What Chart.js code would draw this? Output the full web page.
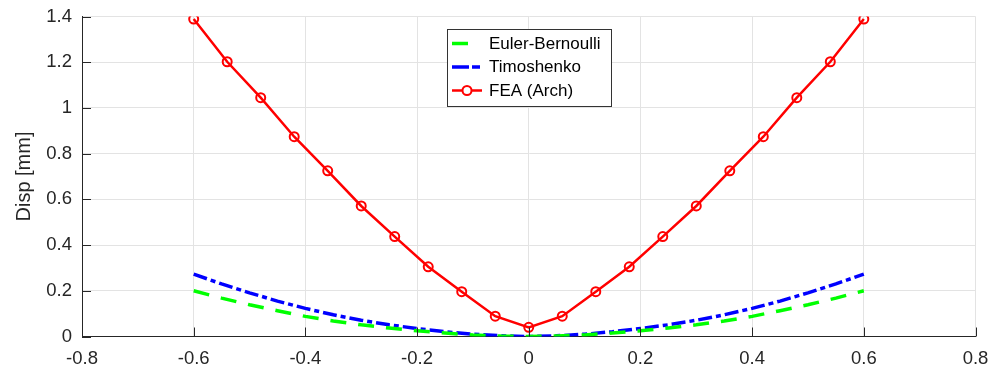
<!DOCTYPE html>
<html>
<head>
<meta charset="utf-8">
<script src="https://cdn.jsdelivr.net/npm/chart.js@4.4.1/dist/chart.umd.min.js"></script>
<style>
  html, body { margin: 0; padding: 0; background: #fff; }
  #wrap { width: 1006px; height: 374px; }
  canvas { display: block; }
</style>
</head>
<body>
<div id="wrap"><canvas id="c" width="1006" height="374"></canvas></div>
<script>
// Axis ticks
const xTicks = [-0.8, -0.6, -0.4, -0.2, 0, 0.2, 0.4, 0.6, 0.8];
const yTicks = [0, 0.2, 0.4, 0.6, 0.8, 1, 1.2, 1.4];

// Analytical beam solutions, sampled along the span (m)
const beamX = [-0.60, -0.55, -0.50, -0.45, -0.40, -0.35, -0.30, -0.25, -0.20, -0.15, -0.10, -0.05, 0.00,
                0.05,  0.10,  0.15,  0.20,  0.25,  0.30,  0.35,  0.40,  0.45,  0.50,  0.55,  0.60];
const eulerBernoulli = [0.200, 0.168, 0.139, 0.113, 0.088, 0.068, 0.051, 0.037, 0.025, 0.015, 0.007, 0.002, 0.000,
                        0.002, 0.007, 0.015, 0.025, 0.037, 0.051, 0.068, 0.088, 0.113, 0.139, 0.168, 0.200];
const timoshenko = [0.273, 0.230, 0.191, 0.155, 0.123, 0.095, 0.071, 0.051, 0.035, 0.021, 0.010, 0.003, 0.000,
                    0.003, 0.010, 0.021, 0.035, 0.051, 0.071, 0.095, 0.123, 0.155, 0.191, 0.230, 0.273];

// FEA (arch model) nodal displacements
const feaX = [-0.60, -0.54, -0.48, -0.42, -0.36, -0.30, -0.24, -0.18, -0.12, -0.06, 0.00,
               0.06,  0.12,  0.18,  0.24,  0.30,  0.36,  0.42,  0.48,  0.54,  0.60];
const feaArch = [1.389, 1.202, 1.045, 0.874, 0.725, 0.571, 0.437, 0.305, 0.196, 0.089, 0.040,
                 0.089, 0.196, 0.305, 0.437, 0.571, 0.725, 0.874, 1.045, 1.202, 1.389];

const seriesNames = ['Euler-Bernoulli', 'Timoshenko', 'FEA (Arch)'];

const pts = (xs, ys) => xs.map((v, i) => ({ x: v, y: ys[i] }));
const fmt = v => String(Math.round(v * 10) / 10);

const AXIS = '#262626';
const GRID = '#e3e3e3';
const FONT = '"Liberation Sans", Arial, Helvetica, sans-serif';

// Inward tick marks plus the boxed legend
const frame = {
  id: 'frame',
  afterDatasetsDraw(chart) {
    const { ctx, chartArea: a, scales: { x, y } } = chart;
    ctx.save();
    ctx.strokeStyle = AXIS;
    ctx.lineWidth = 1;
    ctx.beginPath();
    xTicks.forEach(v => {
      const px = Math.round(x.getPixelForValue(v)) + 0.5;
      ctx.moveTo(px, a.bottom);
      ctx.lineTo(px, a.bottom - 9);
    });
    yTicks.forEach(v => {
      const py = Math.round(y.getPixelForValue(v)) + 0.5;
      ctx.moveTo(a.left, py);
      ctx.lineTo(a.left + 9, py);
    });
    ctx.stroke();

    // legend box
    const bx = 447.5, by = 29.5, bw = 164, bh = 77;
    ctx.fillStyle = '#fff';
    ctx.fillRect(bx, by, bw, bh);
    ctx.strokeStyle = '#333';
    ctx.strokeRect(bx, by, bw, bh);

    const rows = [43.5, 67, 90.5];
    ctx.lineCap = 'butt';
    // Euler-Bernoulli sample
    ctx.strokeStyle = '#00ff00';
    ctx.lineWidth = 3.5;
    ctx.beginPath(); ctx.moveTo(452, rows[0]); ctx.lineTo(468, rows[0]); ctx.stroke();
    // Timoshenko sample
    ctx.strokeStyle = '#0000ff';
    ctx.beginPath();
    ctx.moveTo(452, rows[1]); ctx.lineTo(469, rows[1]);
    ctx.moveTo(472, rows[1]); ctx.lineTo(480, rows[1]);
    ctx.stroke();
    // FEA sample
    ctx.strokeStyle = '#ff0000';
    ctx.lineWidth = 2.5;
    ctx.beginPath(); ctx.moveTo(452, rows[2]); ctx.lineTo(482, rows[2]); ctx.stroke();
    ctx.lineWidth = 2;
    ctx.fillStyle = '#fff';
    ctx.beginPath(); ctx.arc(467, rows[2], 4.5, 0, Math.PI * 2); ctx.fill(); ctx.stroke();

    ctx.fillStyle = '#000';
    ctx.font = '17px ' + FONT;
    ctx.textBaseline = 'middle';
    ctx.textAlign = 'left';
    seriesNames.forEach((n, i) => ctx.fillText(n, 489, rows[i] + 0.5));
    ctx.restore();
  }
};

new Chart(document.getElementById('c'), {
  type: 'scatter',
  data: {
    datasets: [
      {
        label: seriesNames[0],
        data: pts(beamX, eulerBernoulli),
        showLine: true,
        borderColor: '#00ff00',
        borderWidth: 3.5,
        borderDash: [16, 12],
        pointRadius: 0,
        tension: 0
      },
      {
        label: seriesNames[1],
        data: pts(beamX, timoshenko),
        showLine: true,
        borderColor: '#0000ff',
        borderWidth: 3.5,
        borderDash: [14, 4, 5, 4],
        pointRadius: 0,
        tension: 0
      },
      {
        label: seriesNames[2],
        data: pts(feaX, feaArch),
        showLine: true,
        borderColor: '#ff0000',
        borderWidth: 2.5,
        pointRadius: 4.5,
        pointBorderWidth: 2,
        pointBorderColor: '#ff0000',
        pointBackgroundColor: 'rgba(255,255,255,0)',
        tension: 0
      }
    ]
  },
  options: {
    responsive: false,
    animation: false,
    devicePixelRatio: 1,
    layout: { padding: { top: 16.5, right: 30.5, left: 0, bottom: 0 } },
    plugins: {
      legend: { display: false },
      tooltip: { enabled: false }
    },
    scales: {
      x: {
        type: 'linear',
        min: -0.8,
        max: 0.8,
        afterBuildTicks: s => { s.ticks = xTicks.map(v => ({ value: v })); },
        afterFit: s => { s.height = 37.5; s.paddingLeft = 0; s.paddingRight = 0; },
        ticks: {
          callback: fmt,
          color: AXIS,
          padding: 11,
          maxRotation: 0,
          font: { family: FONT, size: 18.5 }
        },
        grid: { color: GRID, lineWidth: 1, drawTicks: false, tickLength: 0 },
        border: { display: true, color: AXIS, width: 1 }
      },
      y: {
        type: 'linear',
        min: 0,
        max: 1.4,
        afterBuildTicks: s => { s.ticks = yTicks.map(v => ({ value: v })); },
        afterFit: s => { s.width = 82; s.paddingTop = 0; s.paddingBottom = 0; },
        ticks: {
          callback: fmt,
          color: AXIS,
          padding: 10,
          font: { family: FONT, size: 18.5 }
        },
        title: {
          display: true,
          text: 'Disp [mm]',
          color: AXIS,
          padding: { top: 12, bottom: 0 },
          font: { family: FONT, size: 20 }
        },
        grid: { color: GRID, lineWidth: 1, drawTicks: false, tickLength: 0 },
        border: { display: true, color: AXIS, width: 1 }
      }
    }
  },
  plugins: [frame]
});
</script>
</body>
</html>
